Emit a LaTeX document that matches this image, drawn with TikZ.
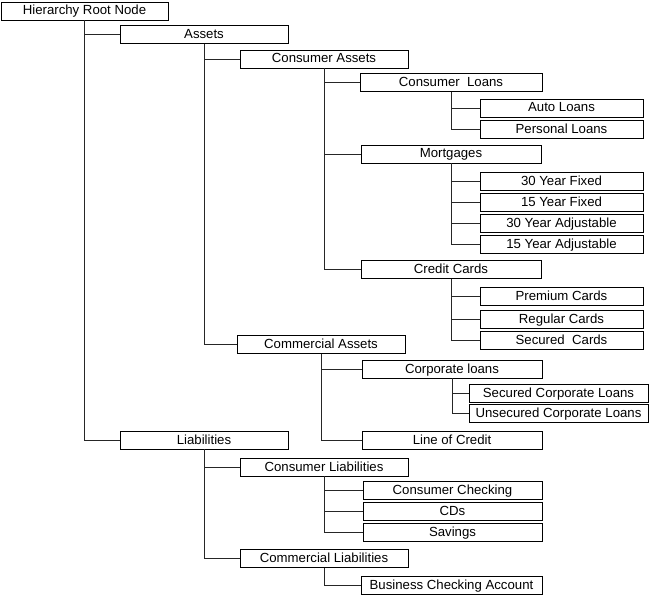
\documentclass[tikz,border=0pt]{standalone}
\usepackage{fontspec}
\setmainfont{Liberation Sans}
\begin{document}
\begin{tikzpicture}[x=1pt,y=-1pt,
  bx/.style={draw=black,line width=0.9pt,fill=white,inner sep=0pt,minimum height=18pt,
    font=\fontsize{13.2}{15}\selectfont, text height=9.5pt, text depth=1.5pt},
  cn/.style={draw=black!85,line width=0.9pt}]
\useasboundingbox (0,0) rectangle (650,596);
\fill[white] (0,0) rectangle (650,596);
% boxes
\node[bx,minimum width=167pt] (root) at (84.5,11) {Hierarchy Root Node};
\node[bx,minimum width=168pt] (assets) at (204,34.5) {Assets};
\node[bx,minimum width=168pt] (consA) at (324,59) {Consumer Assets};
\node[bx,minimum width=182pt] (consL) at (451,82.5) {Consumer\ \ Loans};
\node[bx,minimum width=163pt] (auto) at (561.5,108) {Auto Loans};
\node[bx,minimum width=163pt] (pers) at (561.5,129.5) {Personal Loans};
\node[bx,minimum width=180pt] (mort) at (451,154) {Mortgages};
\node[bx,minimum width=163pt] (f30) at (561.5,181.5) {30 Year Fixed};
\node[bx,minimum width=163pt] (f15) at (561.5,202) {15 Year Fixed};
\node[bx,minimum width=163pt] (a30) at (561.5,223) {30 Year Adjustable};
\node[bx,minimum width=163pt] (a15) at (561.5,244.5) {15 Year Adjustable};
\node[bx,minimum width=180pt] (cc) at (451,269.5) {Credit Cards};
\node[bx,minimum width=163pt] (prem) at (561.5,296) {Premium Cards};
\node[bx,minimum width=163pt] (reg) at (561.5,319) {Regular Cards};
\node[bx,minimum width=163pt] (sec) at (561.5,340) {Secured\ \ Cards};
\node[bx,minimum width=168pt] (commA) at (321,344.5) {Commercial Assets};
\node[bx,minimum width=180pt] (corp) at (452,369) {Corporate loans};
\node[bx,minimum width=179pt] (scorp) at (558.5,393) {Secured Corporate Loans};
\node[bx,minimum width=179pt] (ucorp) at (558.5,413.5) {Unsecured Corporate Loans};
\node[bx,minimum width=180pt] (loc) at (452,440.5) {Line of Credit};
\node[bx,minimum width=168pt] (liab) at (204,440) {Liabilities};
\node[bx,minimum width=168pt] (consLi) at (324,467) {Consumer Liabilities};
\node[bx,minimum width=179pt] (chk) at (452.5,490) {Consumer Checking};
\node[bx,minimum width=179pt] (cds) at (452.5,511) {CDs};
\node[bx,minimum width=179pt] (sav) at (452.5,532) {Savings};
\node[bx,minimum width=168pt] (commLi) at (324,558.5) {Commercial Liabilities};
\node[bx,minimum width=181pt] (bus) at (451.5,585.5) {Business Checking Account};
% connectors
\foreach \p/\c in {root/assets,root/liab,assets/consA,assets/commA,
  consA/consL,consA/mort,consA/cc,consL/auto,consL/pers,
  mort/f30,mort/f15,mort/a30,mort/a15,cc/prem,cc/reg,cc/sec,
  commA/corp,commA/loc,corp/scorp,corp/ucorp,
  liab/consLi,liab/commLi,consLi/chk,consLi/cds,consLi/sav,commLi/bus}
  \draw[cn] (\p.south) |- (\c.west);
\end{tikzpicture}
\end{document}
